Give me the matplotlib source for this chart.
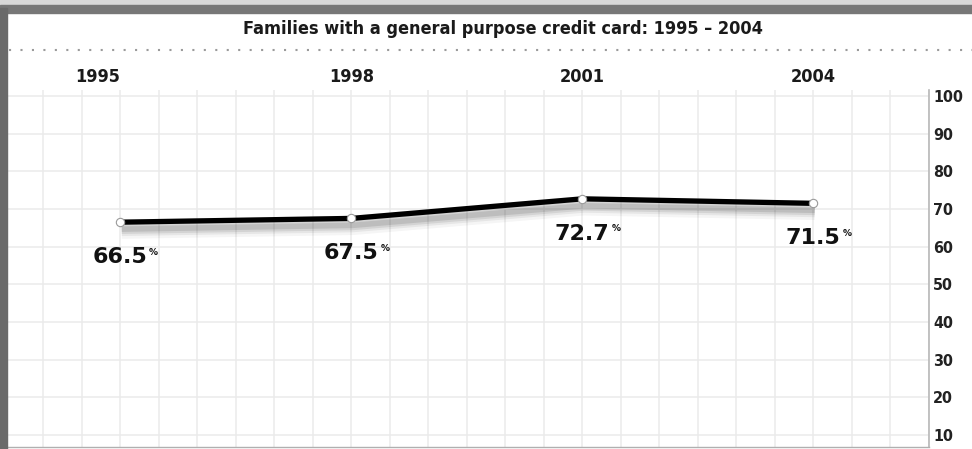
import matplotlib
matplotlib.use("Agg")
import matplotlib.pyplot as plt
import matplotlib.patheffects as pe
from matplotlib.lines import Line2D
from matplotlib.patches import Rectangle

# share of families holding a general purpose credit card
years = [1995, 1998, 2001, 2004]
share = [66.5, 67.5, 72.7, 71.5]
year_labels = ["1995", "1998", "2001", "2004"]
yticks = [10, 20, 30, 40, 50, 60, 70, 80, 90, 100]
title = "Families with a general purpose credit card: 1995 \u2013 2004"

W, H = 972, 449
fig = plt.figure(figsize=(W / 100, H / 100), dpi=100)
fig.patch.set_facecolor("white")

ax = fig.add_axes([7 / W, 2 / H, (929 - 7) / W, (447 - 90) / H])
ax.set_xlim(1993.53, 2005.5)
ax.set_ylim(6.8, 101.6)

# light square grid every half year / every 10 points
xgrid = [1993.5 + 0.5 * i for i in range(25)]
for gx in xgrid:
    ax.axvline(gx, color="#ebebeb", lw=1.1, zorder=0)
for gy in yticks:
    ax.axhline(gy, color="#ebebeb", lw=1.1, zorder=0)

ax.set_xticks([])
ax.set_yticks(yticks)
ax.yaxis.tick_right()
ax.tick_params(axis="y", length=0, pad=3)
for lab in ax.get_yticklabels():
    lab.set_fontfamily("DejaVu Sans")
    lab.set_fontstretch("condensed")
    lab.set_fontweight("bold")
    lab.set_fontsize(11.5)
    lab.set_color("#222222")

for s in ["top", "left"]:
    ax.spines[s].set_visible(False)
ax.spines["right"].set_color("#b8b8b8")
ax.spines["right"].set_linewidth(1.2)
ax.spines["bottom"].set_color("#b0b0b0")
ax.spines["bottom"].set_linewidth(1.0)

# thick black line with a soft drop shadow
shadow = [pe.SimpleLineShadow(offset=(1, -5), shadow_color="#000000",
                              alpha=a, rho=1.0, linewidth=lw)
          for lw, a in [(14, 0.04), (10, 0.06), (7, 0.08), (4, 0.10)]]
ax.plot(years, share, color="black", lw=3.8, solid_capstyle="butt",
        path_effects=shadow + [pe.Normal()], zorder=3)
ax.plot(years, share, ls="none", marker="o", ms=6, mfc="white",
        mec="#9a9a9a", mew=0.8, zorder=4)

# value labels under each point, with a small raised percent sign
for x, v in zip(years, share):
    ax.annotate(f"{v:.1f}", (x, v), xytext=(27, -35), textcoords="offset pixels",
                ha="right", va="center", fontsize=16, fontweight="heavy",
                family="DejaVu Sans", color="#111111", zorder=5)
    ax.annotate("%", (x, v), xytext=(29, -30), textcoords="offset pixels",
                ha="left", va="center", fontsize=6.5, fontweight="bold",
                family="DejaVu Sans", color="#111111", zorder=5)

# year labels above the plot area
for x, lab in zip(years, year_labels):
    dx = -23 if x == years[0] else 0
    ax.annotate(lab, (x, 101.6), xytext=(dx, 13), textcoords="offset pixels",
                ha="center", va="center", fontsize=13, fontweight="bold",
                family="DejaVu Sans", fontstretch="condensed", color="#1a1a1a",
                annotation_clip=False)

# frame: gray bands on top and left, dotted rule under the title
fig.add_artist(Rectangle((0, (H - 5) / H), 1, 5 / H, transform=fig.transFigure,
                         color="#d8d8d8", zorder=0))
fig.add_artist(Rectangle((0, (H - 13) / H), 1, 8 / H, transform=fig.transFigure,
                         color="#777777", zorder=1))
fig.add_artist(Rectangle((0, 0), 7 / W, (H - 8) / H, transform=fig.transFigure,
                         color="#6a6a6a", zorder=1))
fig.add_artist(Line2D([9 / W, 1], [(H - 50) / H] * 2, transform=fig.transFigure,
                      color="#9a9a9a", lw=1.5, dashes=(1, 4.5)))
fig.text(503 / W, (H - 29) / H, title, ha="center", va="center", fontsize=13,
         fontweight="bold", family="DejaVu Sans", fontstretch="condensed",
         color="#1a1a1a")

fig.savefig("out.png", dpi=100)
